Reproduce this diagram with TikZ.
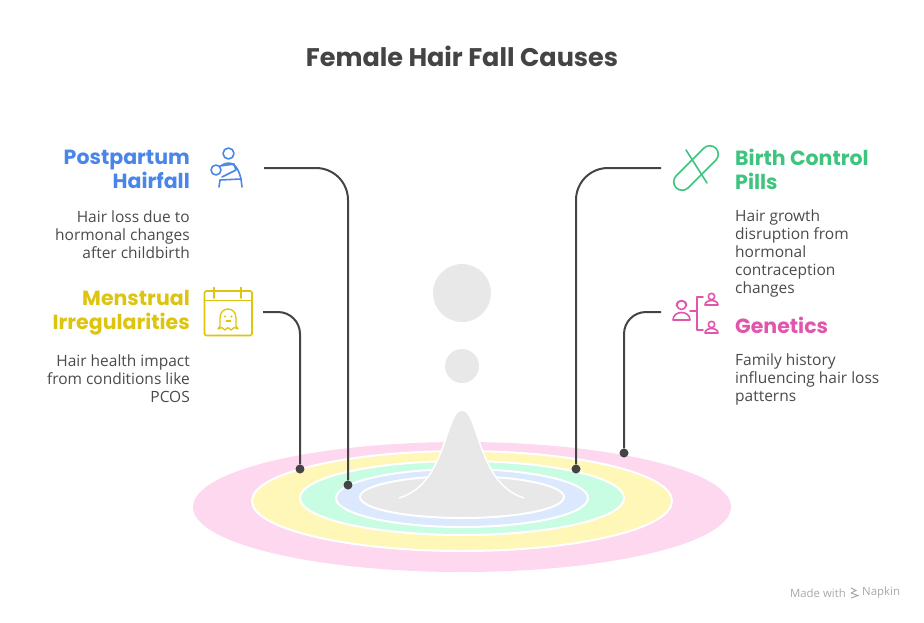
\documentclass[tikz,border=0pt]{standalone}
\usepackage{fontspec}
\setmainfont{Open Sans}
\newfontfamily\headfont{Poppins}
\usetikzlibrary{positioning}
\definecolor{lingray}{HTML}{444444}
\definecolor{txtgray}{HTML}{4A4A4A}
\definecolor{dropgray}{HTML}{E8E8E8}
\definecolor{ringpink}{HTML}{FDD8EE}
\definecolor{ringyellow}{HTML}{FFF7B8}
\definecolor{ringgreen}{HTML}{C8FDE4}
\definecolor{ringblue}{HTML}{DCE8FD}
\definecolor{blueH}{HTML}{4A86E8}
\definecolor{yellowH}{HTML}{DDC40F}
\definecolor{greenH}{HTML}{3EC47E}
\definecolor{pinkH}{HTML}{E056AC}
\definecolor{wmgray}{HTML}{A8A8A8}
\tikzset{
  head/.style={font=\headfont\bfseries\fontsize{20.5}{24}\selectfont, inner sep=0pt},
  desc/.style={font=\fontsize{15.5}{18}\selectfont, text=txtgray, inner sep=0pt},
  conn/.style={draw=lingray, line width=2pt},
  enddot/.style={circle, fill=lingray, inner sep=0pt, minimum size=9pt},
  ring/.style={draw=white, line width=2pt},
  icon/.style={line width=1.6pt, line cap=round, line join=round},
}
\begin{document}
\begin{tikzpicture}[x=1pt,y=-1pt]
    \useasboundingbox (0,0) rectangle (924,622);
    \node[font=\headfont\bfseries\fontsize{25.5}{28}\selectfont, text=lingray] (title) at (462,56) {Female Hair Fall Causes};
    % rings and drop
    \fill[ringpink] (462,507) ellipse [x radius=269, y radius=65];
    \draw[ring, fill=ringyellow] (462,501) ellipse [x radius=210, y radius=50];
    \draw[ring, fill=ringgreen] (462,498) ellipse [x radius=162, y radius=37];
    \draw[ring, fill=ringblue] (462,498) ellipse [x radius=126, y radius=29];
    \draw[ring, fill=dropgray] (462,497) ellipse [x radius=102, y radius=21];
    \fill[dropgray] (399,498) .. controls (425,490) and (436,468) .. (446,438) .. controls (453,417) and (456,410) .. (462,410) .. controls (468,410) and (471,417) .. (478,438) .. controls (488,468) and (499,490) .. (524,498) -- cycle;
    \draw[white, line width=1.5pt] (399,498) .. controls (425,490) and (436,468) .. (446,438) .. controls (453,417) and (456,410) .. (462,410) .. controls (468,410) and (471,417) .. (478,438) .. controls (488,468) and (499,490) .. (524,498);
    \fill[dropgray] (462,293) circle (29);
    \fill[dropgray] (462,366) circle (17);
    % postpartum
    \node[head, text=blueH, anchor=east, align=right] (pph) at (190,169) {Postpartum\\Hairfall};
    \node[desc, anchor=east, align=right] (ppd) at (190,235) {Hair loss due to\\hormonal changes\\after childbirth};
    \draw[icon, blueH] (228.5,153.5) circle (5.5);
    \draw[icon, blueH] (216,170) circle (5);
    \draw[icon, blueH] (222,165) .. controls (231,160) and (238,165) .. (241,179) -- (242,187);
    \draw[icon, blueH] (219,187) -- (220,180) -- (241,179);
    \draw[icon, blueH] (220,166) -- (234,164) -- (236,170) -- (222,177);
    % menstrual
    \node[head, text=yellowH, anchor=east, align=right] (mnh) at (190,313) {Menstrual\\Irregularities};
    \node[desc, anchor=east, align=right] (mnd) at (190,379) {Hair health impact\\from conditions like\\PCOS};
    \draw[icon, yellowH, rounded corners=1.5pt] (204.5,291) rectangle (252,335.5);
    \draw[icon, yellowH] (204.5,300.5) -- (252,300.5);
    \draw[icon, yellowH] (214,287.5) -- (214,298) (241,287.5) -- (241,298);
    \draw[icon, yellowH, line width=1.3pt] (218,329) -- (220,326) -- (220,318) .. controls (220,306) and (236,306) .. (236,318) -- (236,326) -- (238,329) -- (234.5,327.5) -- (231,330) -- (228,327.5) -- (225,330) -- (221.5,327.5) -- cycle;
    \fill[yellowH] (225,316.5) circle (1.1) (231.5,316.5) circle (1.1);
    \draw[yellowH, line width=1.1pt] (225.5,321) -- (231,321);
    % birth control
    \node[head, text=greenH, anchor=west, align=left] (bch) at (735,169) {Birth Control\\Pills};
    \node[desc, anchor=west, align=left] (bcd) at (735,253) {Hair growth\\disruption from\\hormonal\\contraception\\changes};
    \begin{scope}[shift={(696,168)}, rotate=45]
        \draw[icon, greenH, rounded corners=8.5pt] (-28,-8.5) rectangle (28,8.5);
    \end{scope}
    \draw[icon, greenH] (686,150) -- (707,183);
    % genetics
    \node[head, text=pinkH, anchor=west] (geh) at (735,325) {Genetics};
    \node[desc, anchor=west, align=left] (ged) at (735,379) {Family history\\influencing hair loss\\patterns};
    \draw[icon, pinkH] (681.5,305) circle (4.5);
    \draw[icon, pinkH] (676.5,306) .. controls (676,299) and (687,299) .. (686.5,306);
    \draw[icon, pinkH] (673,320) .. controls (673,310) and (690,310) .. (690,320) -- cycle;
    \draw[icon, pinkH] (690,311) -- (697,311) (703,297) -- (697,297) -- (697,330) -- (703,330);
    \draw[icon, pinkH] (711.5,296.5) circle (3.2);
    \draw[icon, pinkH] (705,305) .. controls (705,299) and (718,299) .. (718,305) -- cycle;
    \draw[icon, pinkH] (711.5,324.5) circle (3.2);
    \draw[icon, pinkH] (705,333) .. controls (705,327) and (718,327) .. (718,333) -- cycle;
    % connectors
    \coordinate (ppS) at (264,168);
    \coordinate (mnS) at (263,312);
    \coordinate (bcS) at (661,168);
    \coordinate (geS) at (661,312);
    \node[enddot] (ppD) at (348,485) {};
    \node[enddot] (mnD) at (300,469) {};
    \node[enddot] (bcD) at (576,469) {};
    \node[enddot] (geD) at (624,453) {};
    \draw[conn, rounded corners=32pt] (ppS) -| (ppD);
    \draw[conn, rounded corners=22pt] (mnS) -| (mnD);
    \draw[conn, rounded corners=32pt] (bcS) -| (bcD);
    \draw[conn, rounded corners=22pt] (geS) -| (geD);
    % watermark
    \node[font=\fontsize{11.4}{13}\selectfont, text=wmgray, anchor=east, inner sep=0pt] (mw) at (846,593) {Made with};
    \node[font=\fontsize{11.4}{13}\selectfont, text=wmgray, anchor=west, inner sep=0pt] (np) at (862,593) {Napkin};
    \draw[wmgray, line width=1pt] (851,588) -- (856,590.5) -- (851,593) (851,593) -- (858,595.5) -- (851,598);
\end{tikzpicture}
\end{document}
